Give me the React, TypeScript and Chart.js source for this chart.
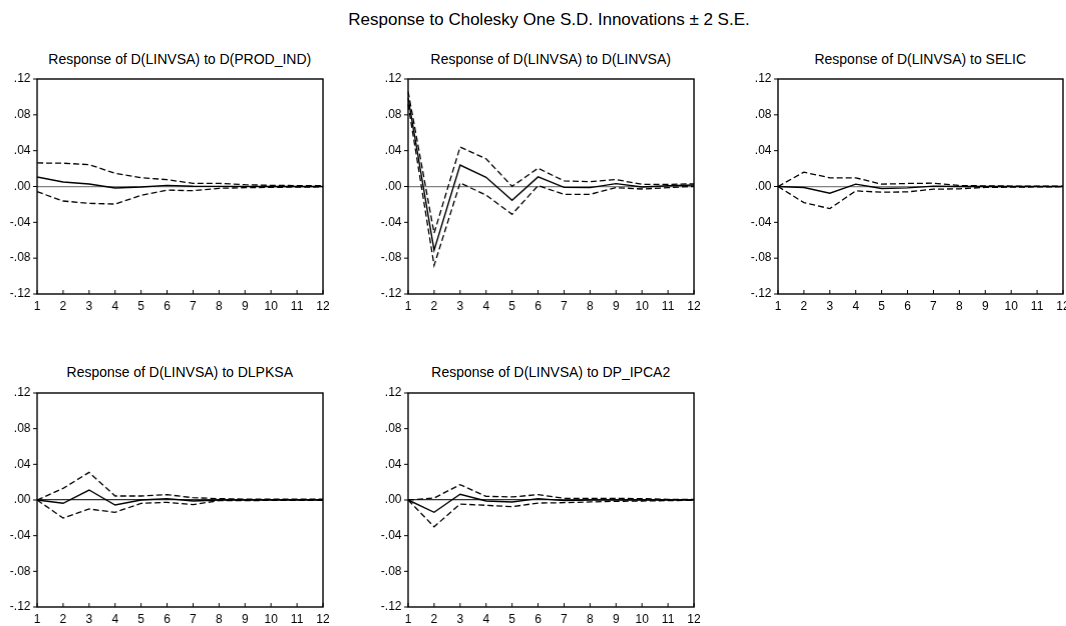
import React, { useEffect, useRef } from "react";
import { Chart, registerables } from "chart.js";

Chart.register(...registerables);

// ---------- data ----------
const periods = ["1", "2", "3", "4", "5", "6", "7", "8", "9", "10", "11", "12"];
const yTicks = [-0.12, -0.08, -0.04, 0, 0.04, 0.08, 0.12];

const prodResp = [0.0106, 0.005, 0.0028, -0.0017, -0.0006, 0.0013, 0.0002, 0.0001, 0.0001, 0.0, 0.0, 0.0];
const prodUpper = [0.0263, 0.026, 0.0244, 0.0147, 0.0099, 0.0076, 0.0035, 0.0035, 0.002, 0.0013, 0.001, 0.001];
const prodLower = [-0.0058, -0.0162, -0.0188, -0.0196, -0.0099, -0.004, -0.0047, -0.002, -0.0013, -0.001, -0.0006, -0.0005];

const linvResp = [0.099, -0.071, 0.024, 0.0103, -0.0155, 0.0107, -0.001, -0.0013, 0.0032, -0.0006, 0.0009, 0.0017];
const linvUpper = [0.106, -0.052, 0.044, 0.031, 0.0002, 0.0204, 0.0062, 0.0054, 0.0077, 0.0024, 0.0024, 0.003];
const linvLower = [0.092, -0.088, 0.004, -0.0096, -0.031, 0.001, -0.0088, -0.0088, -0.0013, -0.0028, -0.0013, 0.0002];

const selicResp = [0.0, -0.0011, -0.0075, 0.0026, -0.0022, -0.0015, 0.0004, 0.0, 0.0, 0.0, 0.0, 0.0];
const selicUpper = [0.0, 0.016, 0.0097, 0.0097, 0.0026, 0.0034, 0.0037, 0.0011, 0.0007, 0.0005, 0.0005, 0.0005];
const selicLower = [0.0, -0.018, -0.0247, -0.0049, -0.0064, -0.006, -0.003, -0.0026, -0.001, -0.0007, -0.0005, -0.0002];

const dlpkResp = [0.0, -0.0037, 0.0112, -0.0056, 0.0, 0.0015, -0.0011, 0.0, 0.0, 0.0, 0.0, 0.0];
const dlpkUpper = [0.0, 0.013, 0.031, 0.0045, 0.0045, 0.006, 0.0026, 0.0015, 0.001, 0.001, 0.001, 0.001];
const dlpkLower = [0.0, -0.0202, -0.0101, -0.0138, -0.0037, -0.0026, -0.0052, -0.0007, -0.0007, -0.0004, -0.0004, -0.0004];

const ipcaResp = [0.0, -0.0138, 0.0064, -0.0011, -0.0022, 0.0015, -0.0007, 0.0, 0.0, 0.0, 0.0, 0.0];
const ipcaUpper = [0.0, 0.0022, 0.0172, 0.0041, 0.0034, 0.006, 0.0019, 0.0019, 0.0019, 0.0015, 0.0007, 0.0007];
const ipcaLower = [0.0, -0.03, -0.0045, -0.006, -0.0075, -0.0034, -0.003, -0.0022, -0.0015, -0.0011, -0.0007, -0.0004];

const mainTitle = "Response to Cholesky One S.D. Innovations \u00b1 2 S.E.";

// ---------- layout ----------
const FONT = "'Liberation Sans', Arial, Helvetica, sans-serif";
const Y_W = 37;
const PAD_TOP = 38;
const PAD_RIGHT = 12;
const X_H = 22;
const PW = 285.5;

function fmt(v: number): string {
  if (Math.abs(v) < 1e-9) return ".00";
  const s = String(Math.round(Math.abs(v) * 100)).padStart(2, "0");
  return (v < 0 ? "-" : "") + "." + s;
}

const framePlugin = {
  id: "frame",
  afterDatasetsDraw(chart: any) {
    const { ctx, chartArea } = chart;
    const { left, right, top, bottom } = chartArea;
    const x = chart.scales.x;
    const y = chart.scales.y;
    ctx.save();
    ctx.strokeStyle = "#000";
    ctx.lineWidth = 1.4;
    ctx.strokeRect(left, top, right - left, bottom - top);
    ctx.lineWidth = 1;
    periods.forEach((_, i) => {
      const px = x.getPixelForValue(i);
      ctx.beginPath();
      ctx.moveTo(px, bottom);
      ctx.lineTo(px, bottom - 4);
      ctx.stroke();
    });
    yTicks.forEach((v) => {
      const py = y.getPixelForValue(v);
      ctx.beginPath();
      ctx.moveTo(left - 4, py);
      ctx.lineTo(left, py);
      ctx.stroke();
    });
    ctx.restore();
  },
};

type PanelProps = {
  title: string;
  resp: number[];
  upper: number[];
  lower: number[];
  plotLeft: number;
  plotTop: number;
  plotHeight: number;
  zeroColor: string;
};

function Panel({ title, resp, upper, lower, plotLeft, plotTop, plotHeight, zeroColor }: PanelProps) {
  const ref = useRef<HTMLCanvasElement>(null);
  const cw = Y_W + PW + PAD_RIGHT;
  const ch = PAD_TOP + plotHeight + X_H;
  const cl = plotLeft - Y_W;
  const ct = plotTop - PAD_TOP;

  useEffect(() => {
    const dashed = {
      borderColor: "#000",
      borderWidth: 1.3,
      borderDash: [6, 3],
      pointRadius: 0,
      fill: false,
      tension: 0,
    };
    const chart = new Chart(ref.current as HTMLCanvasElement, {
      type: "line",
      data: {
        labels: periods,
        datasets: [
          { ...dashed, data: upper },
          { ...dashed, data: lower },
          { data: resp, borderColor: "#000", borderWidth: 1.4, pointRadius: 0, fill: false, tension: 0 },
        ],
      },
      options: {
        responsive: false,
        animation: false,
        events: [],
        layout: { padding: { top: PAD_TOP, right: PAD_RIGHT, left: 0, bottom: 0 } },
        plugins: {
          legend: { display: false },
          tooltip: { enabled: false },
          title: { display: false },
        },
        scales: {
          x: {
            type: "category",
            offset: false,
            grid: { display: false, drawTicks: false },
            border: { display: false },
            ticks: {
              color: "#000",
              font: { family: FONT, size: 12 },
              padding: 5,
              maxRotation: 0,
              autoSkip: false,
            },
            afterFit: (s: any) => {
              s.height = X_H;
            },
          },
          y: {
            type: "linear",
            min: -0.12,
            max: 0.12,
            afterBuildTicks: (s: any) => {
              s.ticks = yTicks.map((v) => ({ value: v }));
            },
            grid: {
              drawTicks: false,
              lineWidth: 1.2,
              color: (c: any) =>
                c.tick && Math.abs(c.tick.value) < 1e-9 ? zeroColor : "rgba(0,0,0,0)",
            },
            border: { display: false },
            ticks: {
              color: "#000",
              font: { family: FONT, size: 12 },
              padding: 6.5,
              callback: (v: any) => fmt(Number(v)),
            },
            afterFit: (s: any) => {
              s.width = Y_W;
            },
          },
        },
      } as any,
      plugins: [framePlugin],
    });
    return () => chart.destroy();
  }, []);

  return (
    <>
      <div
        style={{
          position: "absolute",
          left: plotLeft,
          width: PW,
          top: plotTop - 20 - 8.5,
          height: 17,
          lineHeight: "17px",
          textAlign: "center",
          fontFamily: FONT,
          fontSize: 14,
          color: "#000",
          whiteSpace: "nowrap",
        }}
      >
        {title}
      </div>
      <canvas
        ref={ref}
        width={cw}
        height={ch}
        style={{ position: "absolute", left: cl, top: ct, width: cw, height: ch }}
      />
    </>
  );
}

export default function App() {
  return (
    <div
      style={{
        position: "absolute",
        left: 0,
        top: 0,
        width: 1066,
        height: 626,
        overflow: "hidden",
        background: "#fff",
      }}
    >
      <div
        style={{
          position: "absolute",
          left: 549,
          top: 10,
          transform: "translateX(-50%)",
          lineHeight: "20px",
          fontFamily: FONT,
          fontSize: 17,
          color: "#000",
          whiteSpace: "nowrap",
        }}
      >
        {mainTitle}
      </div>
      <Panel title="Response of D(LINVSA) to D(PROD_IND)" resp={prodResp} upper={prodUpper} lower={prodLower} plotLeft={37} plotTop={79} plotHeight={215} zeroColor="#808080" />
      <Panel title="Response of D(LINVSA) to D(LINVSA)" resp={linvResp} upper={linvUpper} lower={linvLower} plotLeft={408} plotTop={79} plotHeight={215} zeroColor="#808080" />
      <Panel title="Response of D(LINVSA) to SELIC" resp={selicResp} upper={selicUpper} lower={selicLower} plotLeft={777.5} plotTop={79} plotHeight={215} zeroColor="#808080" />
      <Panel title="Response of D(LINVSA) to DLPKSA" resp={dlpkResp} upper={dlpkUpper} lower={dlpkLower} plotLeft={37} plotTop={392.5} plotHeight={214} zeroColor="#333" />
      <Panel title="Response of D(LINVSA) to DP_IPCA2" resp={ipcaResp} upper={ipcaUpper} lower={ipcaLower} plotLeft={408} plotTop={392.5} plotHeight={214} zeroColor="#333" />
    </div>
  );
}
